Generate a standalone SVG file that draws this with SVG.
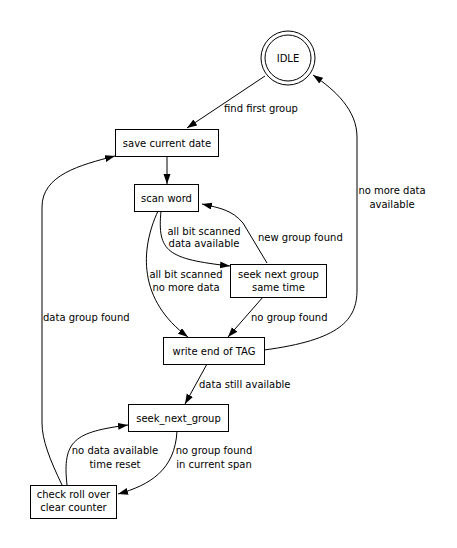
<svg xmlns="http://www.w3.org/2000/svg" width="457" height="548" viewBox="0 0 457 548">
<style>
  .node rect, .node circle { fill: #fff; stroke: #000; stroke-width: 1; }
  text { font-family: "DejaVu Sans", sans-serif; font-size: 10px; fill: #000; }
  .c { text-anchor: middle; }
  .edge { fill: none; stroke: #000; stroke-width: 1; marker-end: url(#arr); }
</style>
<defs>
  <marker id="arr" markerUnits="userSpaceOnUse" markerWidth="10" markerHeight="8" refX="10" refY="3.5" orient="auto">
    <path d="M0,0 L10,3.5 L0,7 z" fill="#000"/>
  </marker>
</defs>
<rect width="457" height="548" fill="#fff"/>
<g id="connectors">
  <path class="edge" d="M265,76 L187,128"/>
  <path class="edge" d="M167,156 L167,184"/>
  <path class="edge" d="M161,211 C157,252 168,259 230,266"/>
  <path class="edge" d="M267,263 L243,223 C232,210 220,208 202,204"/>
  <path class="edge" d="M158,211 C140,250 138,300 188,337"/>
  <path class="edge" d="M263,297 L228,337"/>
  <path class="edge" d="M264,350 C340,340 357,320 357,290 L357,137 C357,110 335,90 313,75"/>
  <path class="edge" d="M207,364 L185,404"/>
  <path class="edge" d="M177,431 C175,470 150,485 118,494"/>
  <path class="edge" d="M67,485 C62,440 75,432 128,425"/>
  <path class="edge" d="M62,485 C50,460 42,440 42,423 L42,207 C42,175 80,165 115,156"/>
  <text x="224" y="111.5">find first group</text>
  <text class="c" x="204" y="235">all bit scanned</text>
  <text class="c" x="204" y="247">data available</text>
  <text x="258" y="240.5">new group found</text>
  <text class="c" x="186" y="277.5">all bit scanned</text>
  <text class="c" x="186" y="290.5">no more data</text>
  <text x="251" y="320.5">no group found</text>
  <text class="c" x="392" y="194">no more data</text>
  <text class="c" x="392" y="207.5">available</text>
  <text x="199" y="387.5">data still available</text>
  <text class="c" x="214" y="454">no group found</text>
  <text class="c" x="214" y="467.5">in current span</text>
  <text class="c" x="115" y="454">no data available</text>
  <text class="c" x="115" y="467.5">time reset</text>
  <text x="43" y="320.5">data group found</text>
</g>
<g id="idle" class="node">
  <circle cx="288" cy="58" r="27"/>
  <circle cx="288" cy="58" r="23"/>
  <text class="c" x="288" y="61.5">IDLE</text>
</g>
<g id="save_current_date" class="node">
  <rect x="115.5" y="129.5" width="103" height="27"/>
  <text class="c" x="167" y="146.5">save current date</text>
</g>
<g id="scan_word" class="node">
  <rect x="134.5" y="184.5" width="64" height="27"/>
  <text class="c" x="166.5" y="201.5">scan word</text>
</g>
<g id="seek_next_group_same_time" class="node">
  <rect x="230.5" y="264.5" width="96" height="33"/>
  <text class="c" x="278.5" y="277.5">seek next group</text>
  <text class="c" x="278.5" y="290.5">same time</text>
</g>
<g id="write_end_of_tag" class="node">
  <rect x="163.5" y="337.5" width="101" height="27"/>
  <text class="c" x="214" y="354.5">write end of TAG</text>
</g>
<g id="seek_next_group" class="node">
  <rect x="128.5" y="404.5" width="100" height="27"/>
  <text class="c" x="178.5" y="421.5">seek_next_group</text>
</g>
<g id="check_roll_over" class="node">
  <rect x="30.5" y="485.5" width="86" height="33"/>
  <text class="c" x="73.5" y="498">check roll over</text>
  <text class="c" x="73.5" y="510.5">clear counter</text>
</g>
</svg>
